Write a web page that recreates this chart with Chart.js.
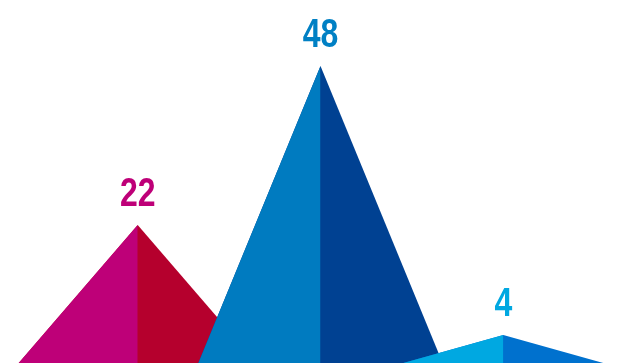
<!DOCTYPE html>
<html>
<head>
<meta charset="utf-8">
<script src="https://cdn.jsdelivr.net/npm/chart.js@4.4.1/dist/chart.umd.min.js"></script>
<style>
  html, body { margin: 0; padding: 0; background: #ffffff; overflow: hidden; }
  #wrap { position: relative; width: 617px; height: 363px; }
</style>
</head>
<body>
<div id="wrap"><canvas id="c" width="617" height="363"></canvas></div>
<script>
// ---- data ----
const categories = ['22', '48', '4'];
const values = [22, 48, 4];
const valueLabels = ['22', '48', '4'];
const leftColors = ['#BE0078', '#007BC0', '#00A8E1'];
const rightColors = ['#B5002D', '#004192', '#0071CE'];
const labelColors = ['#BE0078', '#0080C4', '#00A8E1'];

// ---- layout constants (not data) ----
const HALF_WIDTH = 0.684;   // half base width of each peak, in category units
const BASE = -1.72;         // value at which the peaks' bases sit (just below the view)
const LABEL_GAP = 19;       // px between apex and label baseline
const TEXT_SQUEEZE = 0.8;   // horizontal condensing of the label font

const datasets = [];
values.forEach((v, i) => {
  const n = values.length;
  datasets.push({
    data: [{x: i - HALF_WIDTH, y: BASE}, {x: i, y: v}, {x: i + HALF_WIDTH, y: BASE}],
    backgroundColor: rightColors[i],
    borderColor: rightColors[i],
    borderWidth: 0,
    pointRadius: 0,
    tension: 0,
    fill: {value: BASE},
    order: (n - i) * 2
  });
  datasets.push({
    data: [{x: i - HALF_WIDTH, y: BASE}, {x: i, y: v}],
    backgroundColor: leftColors[i],
    borderColor: leftColors[i],
    borderWidth: 0,
    pointRadius: 0,
    tension: 0,
    fill: {value: BASE},
    order: (n - i) * 2 - 1
  });
});

const labelPlugin = {
  id: 'peakLabels',
  afterDatasetsDraw(chart) {
    const ctx = chart.ctx;
    const xs = chart.scales.x, ys = chart.scales.y;
    values.forEach((v, i) => {
      ctx.save();
      ctx.textAlign = 'center';
      ctx.textBaseline = 'alphabetic';
      ctx.font = 'bold 40px "Liberation Sans", Arial, sans-serif';
      ctx.fillStyle = labelColors[i];
      ctx.translate(xs.getPixelForValue(i), ys.getPixelForValue(v) - LABEL_GAP);
      ctx.scale(TEXT_SQUEEZE, 1);
      ctx.fillText(valueLabels[i], 0, 0);
      ctx.restore();
    });
  }
};

new Chart(document.getElementById('c'), {
  type: 'line',
  data: { labels: categories, datasets },
  options: {
    responsive: false,
    animation: false,
    layout: { padding: 0 },
    plugins: { legend: { display: false }, tooltip: { enabled: false } },
    elements: { line: { borderWidth: 0 } },
    scales: {
      x: { type: 'linear', display: false, min: -0.7533, max: 2.622 },
      y: { type: 'linear', display: false, min: -0.572, max: 58.79 }
    }
  },
  plugins: [labelPlugin]
});
</script>
</body>
</html>
